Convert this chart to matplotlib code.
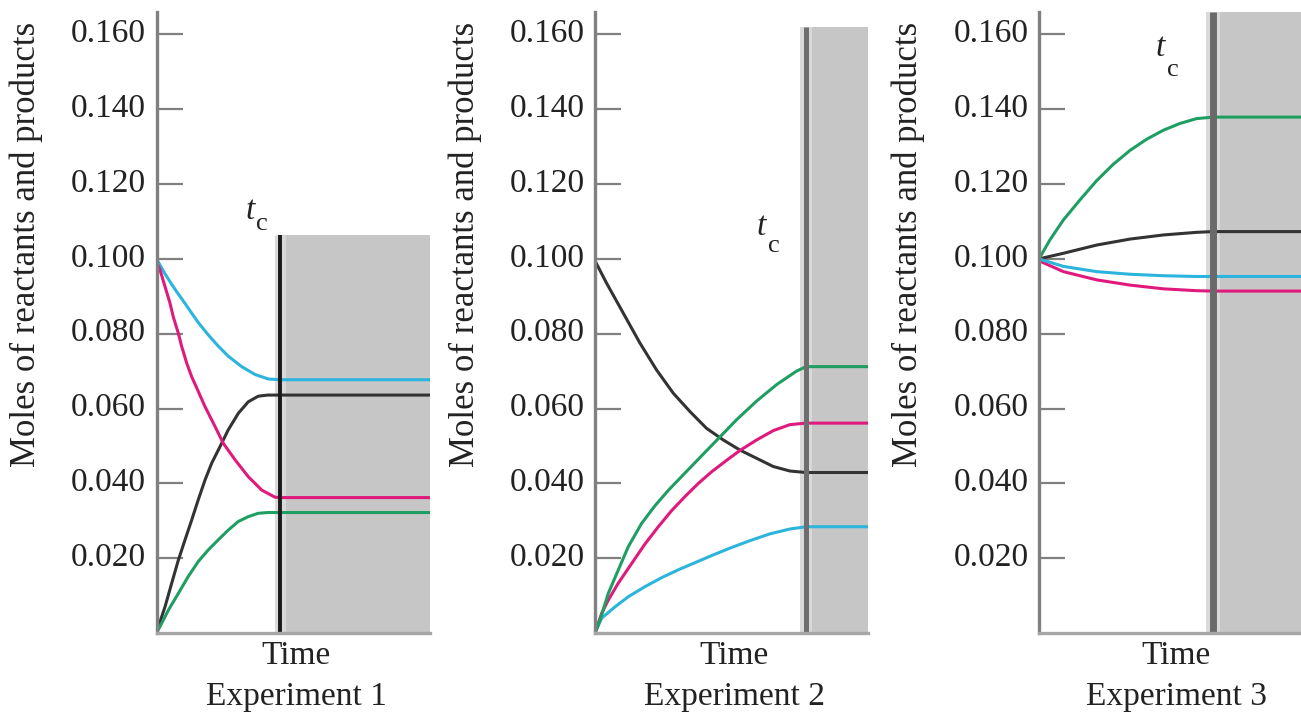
import matplotlib
matplotlib.use("Agg")
import matplotlib.pyplot as plt
from matplotlib.transforms import ScaledTranslation

# ---------------- data ----------------
y_ticks = [0.020, 0.040, 0.060, 0.080, 0.100, 0.120, 0.140, 0.160]
y_tick_labels = ["0.020", "0.040", "0.060", "0.080", "0.100", "0.120", "0.140", "0.160"]
y_label = "Moles of reactants and products"
x_label = "Time"
titles = ["Experiment 1", "Experiment 2", "Experiment 3"]

t_c = 1.0
x_end = [2.215, 1.294, 1.506]          # time span shown in each panel
shade_top = [0.1065, 0.162, 0.166]     # height of the shaded region / t_c line

# Experiment 1
e1_cyan_t = [0, 0.069, 0.123, 0.177, 0.231, 0.285, 0.338, 0.419, 0.50, 0.581, 0.69, 0.798, 0.905, 1.0, 2.215]
e1_cyan_v = [0.100, 0.0960, 0.0932, 0.0906, 0.0881, 0.0855, 0.0830, 0.0797, 0.0767, 0.0740, 0.0712, 0.0691, 0.0679, 0.0677, 0.0677]
e1_mag_t = [0, 0.028, 0.069, 0.109, 0.136, 0.177, 0.204, 0.245, 0.285, 0.326, 0.393, 0.474, 0.541, 0.636, 0.743, 0.852, 0.96, 1.0, 2.215]
e1_mag_v = [0.0992, 0.0971, 0.0926, 0.0882, 0.0845, 0.0801, 0.0766, 0.0721, 0.0685, 0.0655, 0.0605, 0.0552, 0.0507, 0.0463, 0.0418, 0.0382, 0.0363, 0.0362, 0.0362]
e1_blk_t = [0, 0.015, 0.069, 0.123, 0.177, 0.231, 0.285, 0.338, 0.393, 0.447, 0.514, 0.581, 0.662, 0.743, 0.824, 0.90, 2.215]
e1_blk_v = [0.0, 0.0017, 0.0070, 0.0133, 0.0195, 0.0249, 0.0302, 0.0356, 0.0409, 0.0454, 0.0498, 0.0543, 0.0587, 0.0618, 0.0633, 0.0636, 0.0636]
e1_grn_t = [0, 0.028, 0.096, 0.177, 0.257, 0.338, 0.419, 0.50, 0.581, 0.662, 0.743, 0.824, 0.90, 2.215]
e1_grn_v = [0.0, 0.0017, 0.0061, 0.0106, 0.0151, 0.0191, 0.0222, 0.0249, 0.0275, 0.0298, 0.0311, 0.0320, 0.0322, 0.0322]

# Experiment 2
e2_blk_t = [0, 0.055, 0.134, 0.213, 0.292, 0.371, 0.45, 0.529, 0.608, 0.687, 0.766, 0.845, 0.924, 1.0, 1.294]
e2_blk_v = [0.0995, 0.0935, 0.0855, 0.0775, 0.0703, 0.0641, 0.0592, 0.0547, 0.0516, 0.0489, 0.0467, 0.0445, 0.0433, 0.0429, 0.0429]
e2_grn_t = [0, 0.024, 0.063, 0.11, 0.158, 0.221, 0.284, 0.347, 0.427, 0.506, 0.561, 0.671, 0.766, 0.861, 0.955, 1.0, 1.294]
e2_grn_v = [0.0, 0.0035, 0.0106, 0.0168, 0.0231, 0.0293, 0.0340, 0.0381, 0.0428, 0.0474, 0.0506, 0.0570, 0.0620, 0.0664, 0.0700, 0.0712, 0.0712]
e2_mag_t = [0, 0.032, 0.063, 0.11, 0.174, 0.237, 0.30, 0.363, 0.427, 0.49, 0.553, 0.62, 0.687, 0.766, 0.845, 0.924, 1.0, 1.294]
e2_mag_v = [0.0, 0.0053, 0.0088, 0.0133, 0.0186, 0.0238, 0.0284, 0.0327, 0.0365, 0.0400, 0.0431, 0.0460, 0.0488, 0.0516, 0.0541, 0.0557, 0.0561, 0.0561]
e2_cyn_t = [0, 0.032, 0.095, 0.158, 0.237, 0.316, 0.395, 0.474, 0.553, 0.64, 0.735, 0.829, 0.924, 1.0, 1.294]
e2_cyn_v = [0.0, 0.0040, 0.0070, 0.0097, 0.0124, 0.0148, 0.0169, 0.0188, 0.0207, 0.0227, 0.0247, 0.0265, 0.0278, 0.0284, 0.0284]

# Experiment 3
e3_grn_t = [0, 0.063, 0.14, 0.236, 0.331, 0.427, 0.523, 0.619, 0.715, 0.81, 0.906, 1.0, 1.506]
e3_grn_v = [0.100, 0.1051, 0.1104, 0.1158, 0.1209, 0.1253, 0.1290, 0.1320, 0.1344, 0.1362, 0.1375, 0.1379, 0.1379]
e3_blk_t = [0, 0.14, 0.331, 0.523, 0.715, 0.906, 1.0, 1.506]
e3_blk_v = [0.100, 0.1015, 0.1037, 0.1053, 0.1064, 0.1071, 0.1073, 0.1073]
e3_cyn_t = [0, 0.14, 0.331, 0.523, 0.715, 0.906, 1.0, 1.506]
e3_cyn_v = [0.100, 0.0980, 0.0966, 0.0959, 0.0955, 0.0953, 0.0953, 0.0953]
e3_mag_t = [0, 0.14, 0.331, 0.523, 0.715, 0.906, 1.0, 1.506]
e3_mag_v = [0.0995, 0.0966, 0.0944, 0.0930, 0.0920, 0.0915, 0.0914, 0.0914]

# ---------------- style ----------------
CYAN = "#2bb4dc"
MAGENTA = "#e01a7c"
GREEN = "#1f9e62"
BLACK = "#333333"
SHADE = "#c6c6c6"
AXIS = "#808080"

plt.rcParams["font.family"] = ["Liberation Serif", "DejaVu Serif"]

W, H = 1301, 715
fig = plt.figure(figsize=(W / 100, H / 100), dpi=100)

panel_px = [(156.5, 430), (595, 868), (1039, 1301)]
bottom_px, top_px = 633, 12
ylab_x = [-0.477, -0.476, -0.50]
time_x = [0.51, 0.51, 0.523]
tc_line_color = ["#1a1a1a", "#6e6e6e", "#6a6a6a"]
tc_line_w = [2.8, 3.6, 5.0]
tc_text = [((0.757, 0.1128), (0.854, 0.1094)),
           ((0.787, 0.1086), (0.848, 0.1035)),
           ((0.695, 0.1564), (0.770, 0.1505))]

curves = [
    [(e1_cyan_t, e1_cyan_v, CYAN), (e1_blk_t, e1_blk_v, BLACK),
     (e1_grn_t, e1_grn_v, GREEN), (e1_mag_t, e1_mag_v, MAGENTA)],
    [(e2_blk_t, e2_blk_v, BLACK), (e2_cyn_t, e2_cyn_v, CYAN),
     (e2_mag_t, e2_mag_v, MAGENTA), (e2_grn_t, e2_grn_v, GREEN)],
    [(e3_blk_t, e3_blk_v, BLACK), (e3_mag_t, e3_mag_v, MAGENTA),
     (e3_cyn_t, e3_cyn_v, CYAN), (e3_grn_t, e3_grn_v, GREEN)],
]

for i in range(3):
    l, r = panel_px[i]
    ax = fig.add_axes([l / W, (H - bottom_px) / H, (r - l) / W, (bottom_px - top_px) / H])
    ax.set_xlim(0, x_end[i])
    ax.set_ylim(0, 0.166)

    # shaded region after t_c
    ax.fill_between([t_c, x_end[i]], 0, shade_top[i], color=SHADE, lw=0, zorder=1)
    ax.plot([t_c, t_c], [0, shade_top[i]], color="#d9d9d9", lw=tc_line_w[i] + 5,
            zorder=1.5, solid_capstyle="butt")
    ax.plot([t_c, t_c], [0, shade_top[i]], color=tc_line_color[i], lw=tc_line_w[i],
            zorder=4, solid_capstyle="butt")

    for t, v, c in curves[i]:
        ax.plot(t, v, color=c, lw=2.2, zorder=3, solid_capstyle="butt",
                solid_joinstyle="round")

    # axes styling
    for s in ("top", "right"):
        ax.spines[s].set_visible(False)
    ax.spines["left"].set_color(AXIS)
    ax.spines["left"].set_linewidth(2.4)
    ax.spines["bottom"].set_color("#a6a6a6")
    ax.spines["bottom"].set_linewidth(2.4)
    ax.spines["left"].set_zorder(5)
    ax.spines["bottom"].set_zorder(5)
    ax.set_xticks([])
    ax.set_yticks(y_ticks)
    ax.set_yticklabels(y_tick_labels)
    ax.tick_params(axis="y", direction="in", length=19, width=1.6, color=AXIS,
                   pad=7.5, labelsize=24, labelcolor="#222222")
    off = ScaledTranslation(0, 4 / 100, fig.dpi_scale_trans)
    for lab in ax.get_yticklabels():
        lab.set_transform(lab.get_transform() + off)
    ax.patch.set_alpha(0)

    ax.text(ylab_x[i], 0.626, y_label, transform=ax.transAxes, rotation=90,
            ha="center", va="center", fontsize=25, color="#222222")
    ax.text(time_x[i], -0.036, x_label, transform=ax.transAxes, ha="center",
            va="center", fontsize=24, color="#222222")
    ax.text(time_x[i], -0.103, titles[i], transform=ax.transAxes, ha="center",
            va="center", fontsize=24, color="#222222")

    (tx, ty), (cx, cy) = tc_text[i]
    ax.text(tx, ty, "t", style="italic", fontsize=24, ha="center", va="center",
            color="#222222")
    ax.text(cx, cy, "c", fontsize=19, ha="center", va="center", color="#222222")

fig.savefig("out.png", dpi=100)
